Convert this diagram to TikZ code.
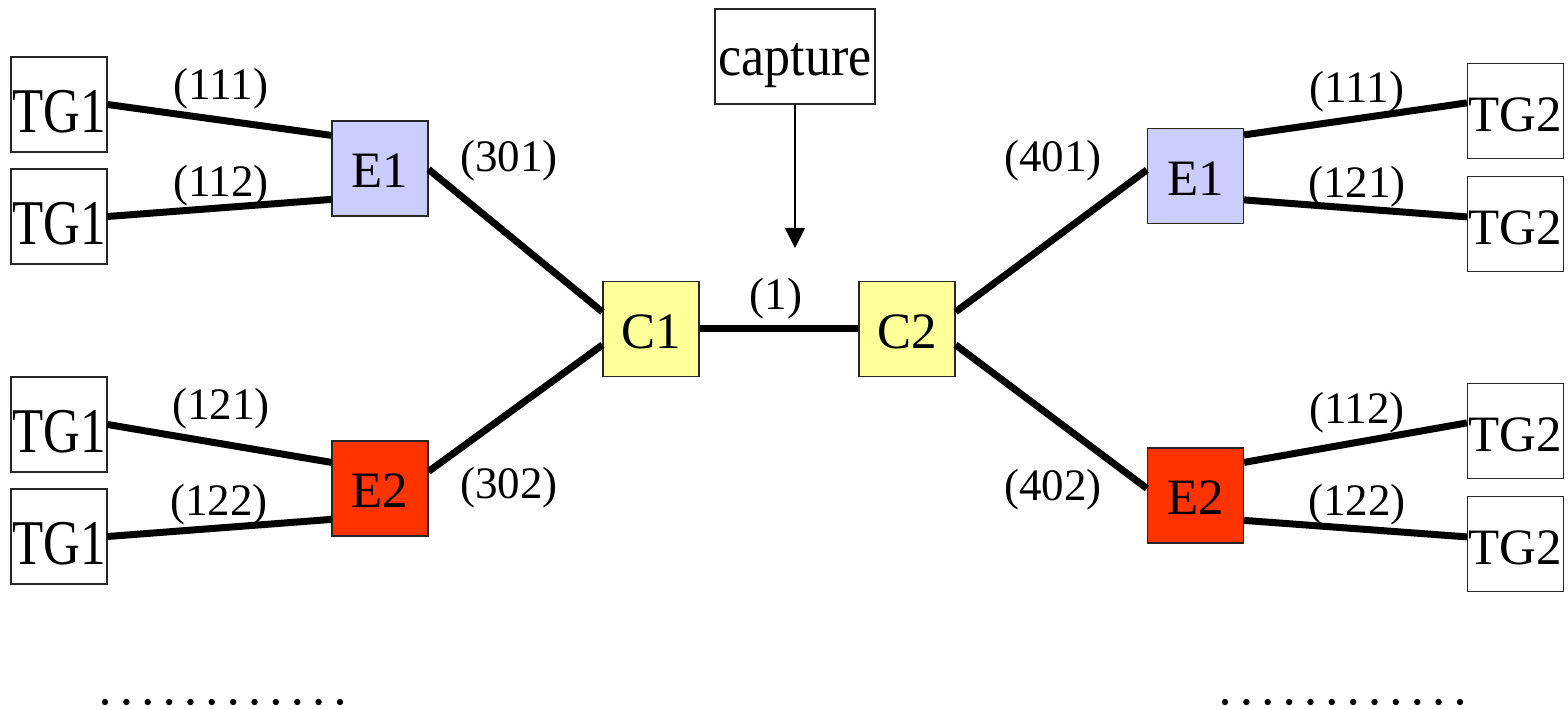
\documentclass[tikz,border=0pt]{standalone}
\usepackage{fontspec}
\setmainfont{Liberation Serif}
\usetikzlibrary{arrows.meta,calc}
\definecolor{eblue}{HTML}{CCCCFF}
\definecolor{ered}{HTML}{FF3300}
\definecolor{cyel}{HTML}{FFFF99}
\begin{document}
\begin{tikzpicture}[x=0.5pt,y=-0.5pt,
  box/.style={draw=black!85,line width=0.6pt,minimum width=48pt,minimum height=47.5pt,inner sep=0pt,font=\fontsize{25.5}{30}\selectfont,text height=19.5pt,text depth=0pt},
  tgone/.style={box,text height=28pt},
  tgtwo/.style={box,text height=21pt},
  lbl/.style={inner sep=0pt,font=\fontsize{22.5}{26}\selectfont},
  link/.style={line width=3.5pt},
  dotmark/.style={fill=black}]
\useasboundingbox (0,0) rectangle (1568,710);
% left side
\node[tgone] (tg1a) at (59,104.5) {\scalebox{1}[1.25]{TG1}};
\node[tgone] (tg1b) at (59,216.5) {\scalebox{1}[1.25]{TG1}};
\node[tgone] (tg1c) at (59,424.5) {\scalebox{1}[1.25]{TG1}};
\node[tgone] (tg1d) at (59,536.5) {\scalebox{1}[1.25]{TG1}};
\node[box,fill=eblue] (e1l) at (380,168.5) {E1};
\node[box,fill=ered] (e2l) at (380,488.5) {E2};
\node[box,fill=cyel] (c1) at (651,329) {C1};
\node[box,fill=cyel] (c2) at (907,329) {C2};
\node[box,minimum width=80pt,font=\fontsize{26}{30}\selectfont,text height=25pt,text depth=5.5pt] (cap) at (795,56.5) {\scalebox{1}[1.1]{capture}};
% right side
\node[box,fill=eblue] (e1r) at (1195.5,176) {E1};
\node[box,fill=ered] (e2r) at (1195.5,495.5) {E2};
\node[tgtwo] (tg2a) at (1515.5,111) {TG2};
\node[tgtwo] (tg2b) at (1515.5,224) {TG2};
\node[tgtwo] (tg2c) at (1515.5,431) {TG2};
\node[tgtwo] (tg2d) at (1515.5,544) {TG2};
% links
\draw[link] (tg1a.east) -- ($(e1l.north west)+(0,15)$);
\draw[link] (tg1b.east) -- ($(e1l.north west)+(0,79)$);
\draw[link] (tg1c.east) -- ($(e2l.north west)+(0,22)$);
\draw[link] (tg1d.east) -- ($(e2l.north west)+(0,79)$);
\draw[link] ($(e1l.north east)+(0,49)$) -- ($(c1.north west)+(0,31)$);
\draw[link] ($(e2l.north east)+(0,31)$) -- ($(c1.north west)+(0,64)$);
\draw[link] (c1.east) -- (c2.west);
\draw[link] ($(c2.north east)+(0,31)$) -- ($(e1r.north west)+(0,42)$);
\draw[link] ($(c2.north east)+(0,64)$) -- ($(e2r.north west)+(0,41)$);
\draw[link] ($(e1r.north east)+(0,7)$) -- ($(tg2a.north west)+(0,40)$);
\draw[link] ($(e1r.north east)+(0,72)$) -- ($(tg2b.north west)+(0,41)$);
\draw[link] ($(e2r.north east)+(0,15)$) -- ($(tg2c.north west)+(0,40)$);
\draw[link] ($(e2r.north east)+(0,73)$) -- ($(tg2d.north west)+(0,41)$);
% capture arrow
\coordinate (captip) at (795,248);
\draw[line width=0.75pt,-{Triangle[width=10pt,length=10pt]}] (cap.south) -- (captip);
% labels
\node[lbl] (l111a) at (221,89) {(111)};
\node[lbl] (l112a) at (221,186) {(112)};
\node[lbl] (l121a) at (221,409) {(121)};
\node[lbl] (l122a) at (219,505) {(122)};
\node[lbl] (l301) at (509,161) {(301)};
\node[lbl] (l302) at (509,488) {(302)};
\node[lbl] (l1) at (776,299) {(1)};
\node[lbl] (l401) at (1053,161) {(401)};
\node[lbl] (l402) at (1053,490) {(402)};
\node[lbl] (l111b) at (1357,92) {(111)};
\node[lbl] (l121b) at (1357,187) {(121)};
\node[lbl] (l112b) at (1357,413) {(112)};
\node[lbl] (l122b) at (1357,505) {(122)};
% dots
\foreach \i in {0,...,11} {
  \fill[dotmark] ({105+\i*21.36},702) circle (1.6pt);
  \fill[dotmark] ({1225+\i*21.36},702) circle (1.6pt);
}
\end{tikzpicture}
\end{document}
